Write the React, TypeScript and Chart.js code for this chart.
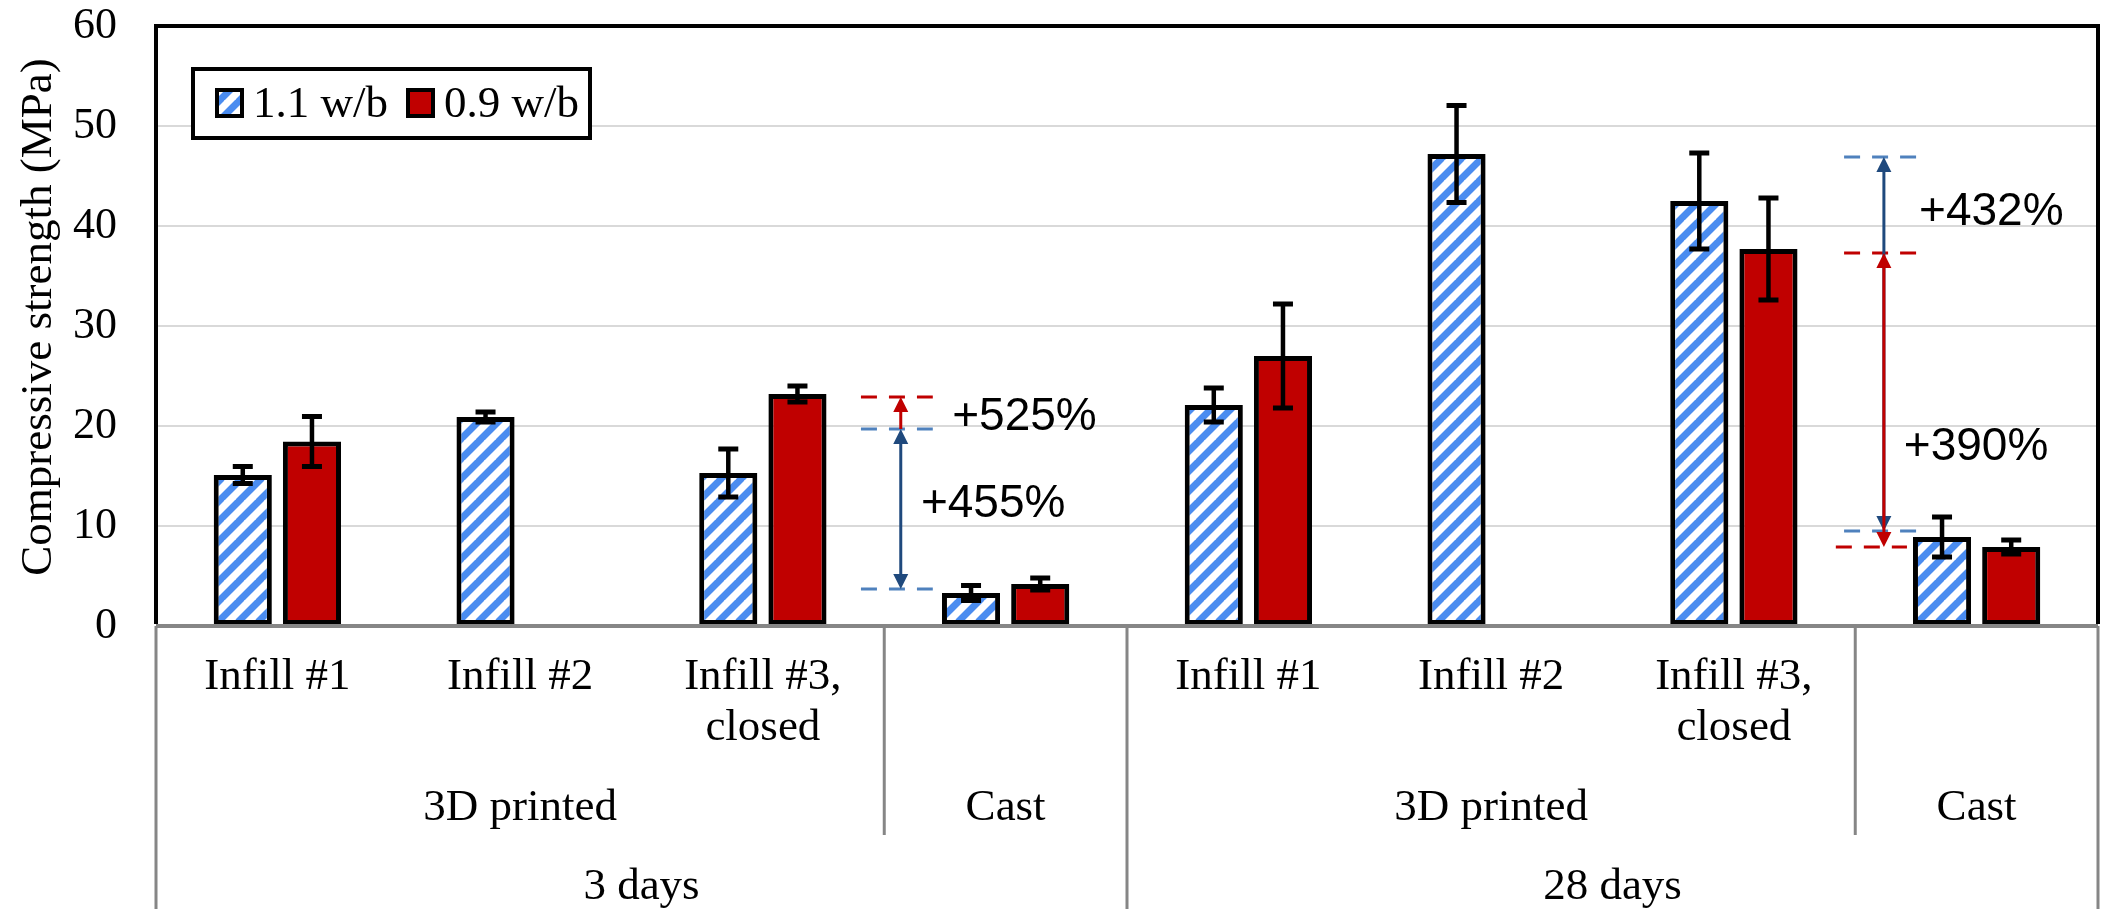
import React, { useEffect, useRef } from 'react';
import { Chart, registerables } from 'chart.js';

Chart.register(...registerables);

// ---------- data ----------
const categoryLines: string[][] = [
  ['Infill #1'], ['Infill #2'], ['Infill #3,', 'closed'], [],
  ['Infill #1'], ['Infill #2'], ['Infill #3,', 'closed'], [],
];
const categories = categoryLines.map((l) => l.join(' '));

const methodLabels = ['3D printed', 'Cast', '3D printed', 'Cast'];
const methodSpans: [number, number][] = [[0, 2], [3, 3], [4, 6], [7, 7]];
const ageLabels = ['3 days', '28 days'];
const ageSpans: [number, number][] = [[0, 3], [4, 7]];

const seriesLabels = ['1.1 w/b', '0.9 w/b'];
const wb11Values = [15.1, 20.9, 15.3, 3.3, 22.1, 47.2, 42.5, 8.9];
const wb11Errors = [0.85, 0.5, 2.4, 0.75, 1.7, 4.85, 4.8, 2.0];
const wb09Values: (number | null)[] = [18.45, null, 23.2, 4.2, 27.0, null, 37.7, 7.9];
const wb09Errors: (number | null)[] = [2.5, null, 0.8, 0.6, 5.2, null, 5.1, 0.7];

const yTicks = [0, 10, 20, 30, 40, 50, 60];
const yTitle = 'Compressive strength (MPa)';

// annotations (x in category-index units, y in MPa)
const noteTexts = ['+525%', '+455%', '+432%', '+390%'];
const noteX = [2.78, 2.651, 6.763, 6.70];
const noteY = [19.6, 10.9, 40.1, 16.6];

const guideLevels = [22.9, 19.7, 3.7, 46.9, 37.3, 9.5, 7.9];
const guideKinds = ['red', 'blue', 'blue', 'blue', 'red', 'blue', 'red'];
const guideFrom = [2.404, 2.404, 2.404, 6.454, 6.454, 6.454, 6.42];
const guideTo = [2.70, 2.70, 2.70, 6.754, 6.754, 6.754, 6.713];

const arrowX = [2.568, 2.568, 6.618, 6.618];
const arrowLow = [19.7, 3.7, 9.5, 7.9];
const arrowHigh = [22.9, 19.7, 46.9, 37.3];
const arrowKinds = ['red', 'blue', 'blue', 'red'];
const arrowHeadLow = [false, true, true, true];
const arrowHeadHigh = [true, true, true, true];

// ---------- styles ----------
const RED = '#c00000';
const STRIPE = '#4a8cf0';
const GUIDE_BLUE = '#4f81bd';
const ARROW_BLUE = '#1f497d';
const GRID = '#d9d9d9';
const AXIS_GREY = '#868686';
const SERIF = "'Liberation Serif', 'Times New Roman', serif";
const SANS = "'Liberation Sans', Arial, sans-serif";

function makeStripePattern(): CanvasPattern | string {
  const size = 20;
  const c = document.createElement('canvas');
  c.width = size;
  c.height = size;
  const g = c.getContext('2d');
  if (!g) return STRIPE;
  g.fillStyle = '#ffffff';
  g.fillRect(0, 0, size, size);
  g.strokeStyle = STRIPE;
  g.lineWidth = 7;
  g.beginPath();
  for (const k of [-1, 0, 1]) {
    g.moveTo(k * size - 2, size + 2);
    g.lineTo(k * size + size + 2, -2);
  }
  g.stroke();
  return g.createPattern(c, 'repeat') || STRIPE;
}

export default function App() {
  const ref = useRef<HTMLCanvasElement | null>(null);

  useEffect(() => {
    const canvas = ref.current;
    if (!canvas) return;
    const pattern = makeStripePattern();
    const fills = [pattern, RED];
    const errors = [wb11Errors, wb09Errors];

    const decorPlugin = {
      id: 'decor',
      beforeDraw(chart: any) {
        const ctx = chart.ctx;
        ctx.save();
        ctx.fillStyle = '#ffffff';
        ctx.fillRect(0, 0, chart.width, chart.height);
        ctx.restore();
      },
      afterDatasetsDraw(chart: any) {
        const ctx: CanvasRenderingContext2D = chart.ctx;
        const area = chart.chartArea;
        const xs = chart.scales.x;
        const ys = chart.scales.y;
        ctx.save();

        // error bars
        ctx.strokeStyle = '#000';
        chart.data.datasets.forEach((ds: any, di: number) => {
          const meta = chart.getDatasetMeta(di);
          ds.data.forEach((v: number | null, i: number) => {
            const e = errors[di][i];
            if (v == null || e == null) return;
            const x = meta.data[i].x;
            const yt = ys.getPixelForValue(v + e);
            const yb = ys.getPixelForValue(v - e);
            ctx.lineWidth = 4.5;
            ctx.beginPath();
            ctx.moveTo(x, yt);
            ctx.lineTo(x, yb);
            ctx.stroke();
            ctx.lineWidth = 5;
            ctx.beginPath();
            ctx.moveTo(x - 10, yt);
            ctx.lineTo(x + 10, yt);
            ctx.moveTo(x - 10, yb);
            ctx.lineTo(x + 10, yb);
            ctx.stroke();
          });
        });

        // zero (category) axis line
        ctx.strokeStyle = AXIS_GREY;
        ctx.lineWidth = 4;
        ctx.beginPath();
        ctx.moveTo(area.left, area.bottom);
        ctx.lineTo(area.right, area.bottom);
        ctx.stroke();

        // plot-area border (top, left, right)
        ctx.strokeStyle = '#000';
        ctx.lineWidth = 4;
        ctx.beginPath();
        ctx.moveTo(area.left, area.bottom - 2);
        ctx.lineTo(area.left, area.top);
        ctx.lineTo(area.right, area.top);
        ctx.lineTo(area.right, area.bottom - 2);
        ctx.stroke();

        // dashed guides
        ctx.lineWidth = 3;
        ctx.setLineDash([16, 12]);
        guideLevels.forEach((lv, i) => {
          ctx.strokeStyle = guideKinds[i] === 'red' ? RED : GUIDE_BLUE;
          const y = ys.getPixelForValue(lv);
          ctx.beginPath();
          ctx.moveTo(xs.getPixelForValue(guideFrom[i]), y);
          ctx.lineTo(xs.getPixelForValue(guideTo[i]), y);
          ctx.stroke();
        });
        ctx.setLineDash([]);

        // arrows
        const hl = 15;
        const hw = 7.5;
        arrowX.forEach((ax, i) => {
          const color = arrowKinds[i] === 'red' ? RED : ARROW_BLUE;
          const x = xs.getPixelForValue(ax);
          const yLow = ys.getPixelForValue(arrowLow[i]);
          const yHigh = ys.getPixelForValue(arrowHigh[i]);
          ctx.strokeStyle = color;
          ctx.fillStyle = color;
          ctx.lineWidth = 3;
          ctx.beginPath();
          ctx.moveTo(x, arrowHeadLow[i] ? yLow - hl + 1 : yLow);
          ctx.lineTo(x, arrowHeadHigh[i] ? yHigh + hl - 1 : yHigh);
          ctx.stroke();
          if (arrowHeadHigh[i]) {
            ctx.beginPath();
            ctx.moveTo(x, yHigh);
            ctx.lineTo(x - hw, yHigh + hl);
            ctx.lineTo(x + hw, yHigh + hl);
            ctx.closePath();
            ctx.fill();
          }
          if (arrowHeadLow[i]) {
            ctx.beginPath();
            ctx.moveTo(x, yLow);
            ctx.lineTo(x - hw, yLow - hl);
            ctx.lineTo(x + hw, yLow - hl);
            ctx.closePath();
            ctx.fill();
          }
        });

        // percentage labels
        ctx.fillStyle = '#000';
        ctx.font = `46px ${SANS}`;
        ctx.textAlign = 'left';
        ctx.textBaseline = 'alphabetic';
        noteTexts.forEach((t, i) => {
          ctx.fillText(t, xs.getPixelForValue(noteX[i]), ys.getPixelForValue(noteY[i]));
        });

        ctx.restore();
      },
      afterDraw(chart: any) {
        const ctx: CanvasRenderingContext2D = chart.ctx;
        const area = chart.chartArea;
        const xs = chart.scales.x;
        const H = chart.height;
        ctx.save();

        // hierarchical category axis lines
        const edge = (k: number) => xs.getPixelForValue(k - 0.5);
        const ageEdges = new Set<number>();
        ageSpans.forEach(([a, b]) => { ageEdges.add(a); ageEdges.add(b + 1); });
        const methodEdges = new Set<number>();
        methodSpans.forEach(([a, b]) => { methodEdges.add(a); methodEdges.add(b + 1); });
        ctx.strokeStyle = AXIS_GREY;
        ctx.lineWidth = 3;
        ageEdges.forEach((k) => {
          ctx.beginPath();
          ctx.moveTo(edge(k), area.bottom);
          ctx.lineTo(edge(k), H);
          ctx.stroke();
        });
        methodEdges.forEach((k) => {
          if (ageEdges.has(k)) return;
          ctx.beginPath();
          ctx.moveTo(edge(k), area.bottom);
          ctx.lineTo(edge(k), area.bottom + 209);
          ctx.stroke();
        });

        // labels
        ctx.fillStyle = '#000';
        ctx.font = `45px ${SERIF}`;
        ctx.textAlign = 'center';
        ctx.textBaseline = 'middle';
        categoryLines.forEach((lines, i) => {
          lines.forEach((ln, j) => {
            ctx.fillText(ln, xs.getPixelForValue(i), area.bottom + 51 + j * 51);
          });
        });
        methodLabels.forEach((t, i) => {
          const [a, b] = methodSpans[i];
          ctx.fillText(t, xs.getPixelForValue((a + b) / 2), area.bottom + 182);
        });
        ageLabels.forEach((t, i) => {
          const [a, b] = ageSpans[i];
          ctx.fillText(t, xs.getPixelForValue((a + b) / 2), area.bottom + 261);
        });

        // y axis title
        ctx.save();
        ctx.translate(39, (area.top + area.bottom) / 2 - 9);
        ctx.rotate(-Math.PI / 2);
        ctx.font = `45px ${SERIF}`;
        ctx.fillText(yTitle, 0, 0);
        ctx.restore();

        // legend
        const lx = area.left + 37;
        const ly = area.top + 43;
        const lw = 397;
        const lh = 69;
        ctx.fillStyle = '#fff';
        ctx.fillRect(lx, ly, lw, lh);
        ctx.strokeStyle = '#000';
        ctx.lineWidth = 4;
        ctx.strokeRect(lx, ly, lw, lh);
        ctx.font = `45px ${SERIF}`;
        ctx.textAlign = 'left';
        ctx.textBaseline = 'alphabetic';
        let x = lx + 24;
        chart.data.datasets.forEach((ds: any, di: number) => {
          ctx.fillStyle = fills[di] as any;
          ctx.fillRect(x, ly + 21, 25, 26);
          ctx.strokeStyle = '#000';
          ctx.lineWidth = 4;
          ctx.strokeRect(x, ly + 21, 25, 26);
          x += 36;
          ctx.fillStyle = '#000';
          ctx.fillText(ds.label, x, ly + 48);
          x += ctx.measureText(ds.label).width + 20;
        });

        ctx.restore();
      },
    };

    const chart = new Chart(canvas, {
      type: 'bar',
      data: {
        labels: categories,
        datasets: [
          {
            label: seriesLabels[0],
            data: wb11Values,
            backgroundColor: pattern as any,
            borderColor: '#000',
            borderWidth: 5,
            borderSkipped: false,
          },
          {
            label: seriesLabels[1],
            data: wb09Values,
            backgroundColor: RED,
            borderColor: '#000',
            borderWidth: 5,
            borderSkipped: false,
          },
        ],
      },
      options: {
        animation: false,
        responsive: false,
        maintainAspectRatio: false,
        devicePixelRatio: 1,
        events: [],
        categoryPercentage: 0.57,
        barPercentage: 0.84,
        layout: { padding: { left: 0, right: 7, top: 26, bottom: 283 } },
        plugins: {
          legend: { display: false },
          tooltip: { enabled: false },
          title: { display: false },
        },
        scales: {
          x: {
            type: 'category',
            display: false,
            offset: true,
          },
          y: {
            min: 0,
            max: 60,
            afterBuildTicks: (s: any) => {
              s.ticks = yTicks.map((v) => ({ value: v }));
            },
            afterFit: (s: any) => {
              s.width = 156;
            },
            border: { display: false },
            grid: {
              drawTicks: true,
              tickLength: 39,
              tickColor: 'rgba(0,0,0,0)',
              lineWidth: 2,
              color: (c: any) =>
                c.tick && (c.tick.value === 0 || c.tick.value === 60) ? 'rgba(0,0,0,0)' : GRID,
            },
            ticks: {
              padding: 0,
              color: '#000',
              font: { family: SERIF, size: 44, lineHeight: 1 },
            },
          },
        },
      } as any,
      plugins: [decorPlugin],
    });

    return () => chart.destroy();
  }, []);

  return (
    <div style={{ position: 'absolute', left: 0, top: 0, width: 2105, height: 909, background: '#fff' }}>
      <canvas ref={ref} width={2105} height={909} style={{ display: 'block' }} />
    </div>
  );
}
